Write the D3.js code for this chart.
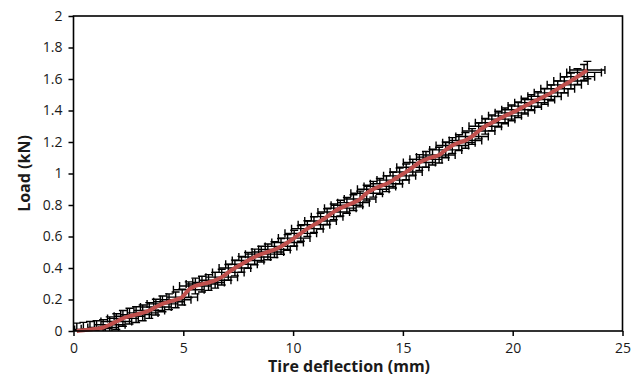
<!DOCTYPE html>
<html>
<head>
<meta charset="utf-8">
<script src="https://cdn.jsdelivr.net/npm/d3@7"></script>
<style>
  body { margin: 0; background: #fff; }
  text { font-family: "Open Sans", "Noto Sans", sans-serif; fill: #1a1a1a; }
</style>
</head>
<body>
<script>
// tire deflection (mm) and load (kN)
const deflection = [0.15, 0.45, 0.75, 1.05, 1.35, 1.65, 1.95, 2.25, 2.55, 2.85,
  3.15, 3.45, 3.75, 4.05, 4.35, 4.65, 4.95, 5.25, 5.55, 5.85,
  6.15, 6.45, 6.75, 7.05, 7.35, 7.65, 7.95, 8.25, 8.55, 8.85,
  9.15, 9.45, 9.75, 10.05, 10.35, 10.65, 10.95, 11.25, 11.55, 11.85,
  12.15, 12.45, 12.75, 13.05, 13.35, 13.65, 13.95, 14.25, 14.55, 14.85,
  15.15, 15.45, 15.75, 16.05, 16.35, 16.65, 16.95, 17.25, 17.55, 17.85,
  18.15, 18.45, 18.75, 19.05, 19.35, 19.65, 19.95, 20.25, 20.55, 20.85,
  21.15, 21.45, 21.75, 22.05, 22.35, 22.65, 22.95, 23.25, 23.4];

const load = [0.0, 0.005, 0.01, 0.015, 0.022, 0.04, 0.06, 0.08, 0.094, 0.104,
  0.115, 0.13, 0.152, 0.172, 0.186, 0.198, 0.215, 0.262, 0.286, 0.298,
  0.308, 0.322, 0.342, 0.372, 0.4, 0.424, 0.448, 0.47, 0.488, 0.502,
  0.517, 0.537, 0.562, 0.59, 0.62, 0.65, 0.675, 0.698, 0.726, 0.756,
  0.78, 0.798, 0.815, 0.838, 0.875, 0.9, 0.918, 0.935, 0.958, 0.985,
  1.01, 1.04, 1.07, 1.09, 1.104, 1.117, 1.15, 1.178, 1.196, 1.21,
  1.235, 1.27, 1.3, 1.322, 1.345, 1.366, 1.385, 1.405, 1.428, 1.45,
  1.47, 1.49, 1.512, 1.538, 1.563, 1.587, 1.615, 1.642, 1.657];

// error bars: +/- deflection (mm) and +/- load (kN)
const deflectionErr = [0.7, 0.7, 0.7, 0.7, 0.7, 0.7, 0.7, 0.7, 0.7, 0.7,
  0.7, 0.7, 0.7, 0.7, 0.7, 0.7, 0.7, 0.7, 0.72, 0.72,
  0.72, 0.72, 0.72, 0.72, 0.72, 0.72, 0.72, 0.72, 0.72, 0.72,
  0.72, 0.72, 0.72, 0.72, 0.72, 0.72, 0.72, 0.72, 0.72, 0.72,
  0.72, 0.72, 0.72, 0.72, 0.72, 0.72, 0.72, 0.73, 0.73, 0.73,
  0.73, 0.73, 0.73, 0.73, 0.73, 0.73, 0.73, 0.74, 0.74, 0.74,
  0.74, 0.74, 0.74, 0.75, 0.75, 0.75, 0.75, 0.75, 0.76, 0.76,
  0.76, 0.76, 0.77, 0.77, 0.78, 0.78, 0.78, 0.79, 0.8];

const loadErr = [0.05, 0.05, 0.05, 0.05, 0.05, 0.05, 0.05, 0.05, 0.05, 0.05,
  0.05, 0.05, 0.05, 0.05, 0.05, 0.05, 0.05, 0.05, 0.05, 0.05,
  0.05, 0.05, 0.05, 0.05, 0.05, 0.05, 0.05, 0.05, 0.05, 0.05,
  0.05, 0.05, 0.05, 0.05, 0.05, 0.05, 0.05, 0.05, 0.05, 0.05,
  0.05, 0.05, 0.05, 0.05, 0.05, 0.05, 0.05, 0.05, 0.05, 0.05,
  0.05, 0.05, 0.05, 0.05, 0.05, 0.05, 0.05, 0.05, 0.05, 0.05,
  0.05, 0.05, 0.05, 0.05, 0.05, 0.05, 0.05, 0.05, 0.05, 0.05,
  0.05, 0.05, 0.05, 0.05, 0.05, 0.05, 0.05, 0.05, 0.055];

const xTicks = [0, 5, 10, 15, 20, 25];
const yTicks = [0, 0.2, 0.4, 0.6, 0.8, 1, 1.2, 1.4, 1.6, 1.8, 2];

const data = deflection.map((d, i) => ({ x: d, y: load[i], ex: deflectionErr[i], ey: loadErr[i] }));

const width = 642, height = 383;
const plotLeft = 73.5, plotRight = 622.5, plotTop = 16, plotBottom = 331;

const svg = d3.select('body')
  .append('svg')
  .attr('width', width)
  .attr('height', height);

const x = d3.scaleLinear().domain([0, 25]).range([plotLeft, plotRight]);
const y = d3.scaleLinear().domain([0, 2]).range([plotBottom, plotTop]);

/* clip error bars to the plot area */
svg.append('defs')
  .append('clipPath')
  .attr('id', 'clip')
  .append('rect')
  .attr('x', plotLeft)
  .attr('y', plotTop)
  .attr('width', plotRight - plotLeft)
  .attr('height', plotBottom - plotTop);

const bars = svg.append('g')
  .attr('clip-path', 'url(#clip)')
  .attr('stroke', '#000')
  .attr('stroke-width', 1.4)
  .attr('fill', 'none');

const cap = 4;

const pt = bars.selectAll('g')
  .data(data)
  .enter()
  .append('g');

// horizontal bar and caps
pt.append('path')
  .attr('d', d => {
    const x0 = x(d.x - d.ex), x1 = x(d.x + d.ex), yy = y(d.y);
    return `M${x0},${yy}H${x1}M${x0},${yy - cap}V${yy + cap}M${x1},${yy - cap}V${yy + cap}`;
  });

// vertical bar and caps
pt.append('path')
  .attr('d', d => {
    const y0 = y(d.y - d.ey), y1 = y(d.y + d.ey), xx = x(d.x);
    return `M${xx},${y0}V${y1}M${xx - cap},${y0}H${xx + cap}M${xx - cap},${y1}H${xx + cap}`;
  });

/* mean curve */
svg.append('path')
  .datum(data)
  .attr('d', d3.line().curve(d3.curveMonotoneX).x(d => x(d.x)).y(d => y(d.y)))
  .attr('fill', 'none')
  .attr('stroke', '#c0504d')
  .attr('stroke-width', 4)
  .attr('stroke-linejoin', 'round');

/* axes */
svg.append('g')
  .attr('transform', `translate(0,${plotBottom})`)
  .call(d3.axisBottom(x).tickValues(xTicks).tickSize(5).tickPadding(7))
  .call(g => g.select('.domain').remove());

svg.append('g')
  .attr('transform', `translate(${plotLeft},0)`)
  .call(d3.axisLeft(y).tickValues(yTicks).tickSize(5).tickPadding(6).tickFormat(d3.format('~g')))
  .call(g => g.select('.domain').remove());

svg.selectAll('.tick line').attr('stroke', '#000').attr('stroke-width', 1.5);
svg.selectAll('.tick text').attr('font-size', 14).attr('fill', '#1a1a1a')
  .attr('font-family', '"Open Sans", sans-serif');

svg.append('rect')
  .attr('x', plotLeft)
  .attr('y', plotTop)
  .attr('width', plotRight - plotLeft)
  .attr('height', plotBottom - plotTop)
  .attr('fill', 'none')
  .attr('stroke', '#000')
  .attr('stroke-width', 1.6);

svg.append('text')
  .attr('x', (plotLeft + plotRight) / 2 + 1)
  .attr('y', 372)
  .attr('text-anchor', 'middle')
  .attr('font-size', 16)
  .attr('font-weight', 'bold')
  .text('Tire deflection (mm)');

svg.append('text')
  .attr('transform', `translate(30,${(plotTop + plotBottom) / 2}) rotate(-90)`)
  .attr('text-anchor', 'middle')
  .attr('font-size', 16)
  .attr('font-weight', 'bold')
  .text('Load (kN)');
</script>
</body>
</html>
